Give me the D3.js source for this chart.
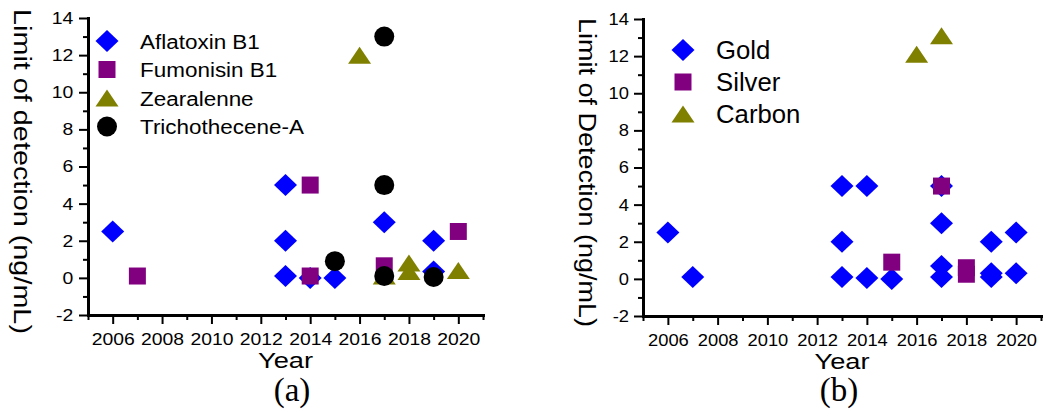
<!DOCTYPE html>
<html>
<head>
<meta charset="utf-8">
<script src="https://cdn.jsdelivr.net/npm/d3@7"></script>
<style>
  body { margin: 0; background: #fff; }
  svg { display: block; font-family: "Liberation Sans", Arial, sans-serif; }
</style>
</head>
<body>
<script>
// ============================================================================
// data
// ============================================================================

// (a) mycotoxins
const toxinNames = ["Aflatoxin B1", "Fumonisin B1", "Zearalenne", "Trichothecene-A"];
const aflatoxinYears = [2006, 2013, 2013, 2013, 2014, 2015, 2017, 2019, 2019];
const aflatoxinLod   = [2.5, 5, 2, 0.1, 0, 0, 3, 2, 0.35];
const fumonisinYears = [2007, 2014, 2014, 2017, 2020];
const fumonisinLod   = [0.1, 5, 0.1, 0.65, 2.5];
const zearYears = [2016, 2017, 2018, 2018, 2020];
const zearLod   = [12, 0.1, 0.8, 0.35, 0.4];
const trichoYears = [2015, 2017, 2017, 2017, 2019];
const trichoLod   = [0.9, 13, 5, 0.1, 0.05];

// (b) nanomaterials
const materialNames = ["Gold", "Silver", "Carbon"];
const goldYears = [2006, 2007, 2013, 2013, 2013, 2014, 2014, 2015, 2017, 2017, 2017, 2017, 2019, 2019, 2019, 2020, 2020];
const goldLod   = [2.5, 0.1, 5, 2, 0.1, 5, 0.05, 0, 5, 3, 0.7, 0.1, 2, 0.3, 0.1, 2.5, 0.3];
const silverYears = [2015, 2017, 2018, 2018];
const silverLod   = [0.9, 5, 0.6, 0.25];
const carbonYears = [2016, 2017];
const carbonLod   = [12.1, 13.1];

// axes
const yearDomain = [2005, 2021];
const yearTicks = [2006, 2008, 2010, 2012, 2014, 2016, 2018, 2020];
const lodDomain = [-2, 14];
const lodTicks = [-2, 0, 2, 4, 6, 8, 10, 12, 14];

// ============================================================================
// marker shapes
// ============================================================================

const shapes = {
    diamond: "M0,-11L11.5,0L0,11L-11.5,0Z",
    square: "M-8.5,-8.5h17v17h-17Z",
    triangle: "M0,-8.5L11.5,8.5L-11.5,8.5Z",
    circle: "M10,0A10,10 0 1,1 -10,0A10,10 0 1,1 10,0Z"
};

const zip = (xs, ys) => xs.map((d, i) => ({ year: d, lod: ys[i] }));

const panels = [
    {
        left: 88, right: 483, top: 18, bottom: 315,
        yTitle: "Limit of detection (ng/mL)", yTitleX: 14, yTitleLen: 325,
        label: "(a)", labelX: 292, tickStretch: 1.14,
        legendX: 107, legendY: 41, legendStep: 28.5, legendFont: 21, legendStretch: 1.07,
        series: [
            { name: toxinNames[0], shape: "diamond",  color: "#0000ff", data: zip(aflatoxinYears, aflatoxinLod) },
            { name: toxinNames[1], shape: "square",   color: "#800080", data: zip(fumonisinYears, fumonisinLod) },
            { name: toxinNames[2], shape: "triangle", color: "#808000", data: zip(zearYears, zearLod) },
            { name: toxinNames[3], shape: "circle",   color: "#000000", data: zip(trichoYears, trichoLod) }
        ]
    },
    {
        left: 643, right: 1041, top: 19, bottom: 316,
        yTitle: "Limit of Detection (ng/mL)", yTitleX: 579, yTitleLen: 309,
        label: "(b)", labelX: 839, tickStretch: 1.08,
        legendX: 683, legendY: 50, legendStep: 32, legendFont: 25, legendStretch: 1.03,
        series: [
            { name: materialNames[0], shape: "diamond",  color: "#0000ff", data: zip(goldYears, goldLod) },
            { name: materialNames[1], shape: "square",   color: "#800080", data: zip(silverYears, silverLod) },
            { name: materialNames[2], shape: "triangle", color: "#808000", data: zip(carbonYears, carbonLod) }
        ]
    }
];

// ============================================================================
// drawing
// ============================================================================

const svg = d3.select("body").append("svg")
    .attr("width", 1053)
    .attr("height", 409);

function styleAxis(sel) {
    sel.attr("font-family", null).attr("font-size", null);
    sel.select(".domain")
        .style("stroke", "#000")
        .style("stroke-width", "3px")
        .style("stroke-linecap", "square");
    sel.selectAll(".tick line")
        .style("stroke", "#000")
        .style("stroke-width", "2px");
    sel.selectAll(".tick text")
        .style("fill", "#000")
        .style("font-size", "17px")
        .style("font-family", "'Liberation Sans', Arial, sans-serif");
}

function drawPanel(p) {
    const g = svg.append("g");

    const x = d3.scaleLinear().domain(yearDomain).range([p.left, p.right]);
    const y = d3.scaleLinear().domain(lodDomain).range([p.bottom, p.top]);

    // minor ticks (every odd step)
    const minorX = d3.range(yearDomain[0], yearDomain[1] + 1).filter(v => !yearTicks.includes(v));
    const minorY = d3.range(lodDomain[0], lodDomain[1] + 1).filter(v => !lodTicks.includes(v));

    g.append("g")
        .attr("transform", `translate(0,${p.bottom})`)
        .call(d3.axisBottom(x).tickValues(minorX).tickSize(5).tickSizeOuter(0).tickFormat(""))
        .call(styleAxis);
    g.append("g")
        .attr("transform", `translate(${p.left},0)`)
        .call(d3.axisLeft(y).tickValues(minorY).tickSize(5).tickSizeOuter(0).tickFormat(""))
        .call(styleAxis);

    // major ticks with labels
    const xAxis = g.append("g")
        .attr("transform", `translate(0,${p.bottom})`)
        .call(d3.axisBottom(x).tickValues(yearTicks).tickSize(9).tickSizeOuter(0).tickFormat(d3.format("d")))
        .call(styleAxis);
    xAxis.selectAll(".tick text")
        .attr("y", 30).attr("dy", 0)
        .attr("transform", `scale(${p.tickStretch},1)`);

    const yAxis = g.append("g")
        .attr("transform", `translate(${p.left},0)`)
        .call(d3.axisLeft(y).tickValues(lodTicks).tickSize(9).tickSizeOuter(0)
            .tickFormat(d => d < 0 ? "-" + Math.abs(d) : d))
        .call(styleAxis);
    yAxis.selectAll(".tick text")
        .attr("x", -13)
        .attr("transform", `scale(${p.tickStretch},1)`);

    // axis titles
    g.append("text")
        .attr("transform", `translate(${(p.left + p.right) / 2},${p.bottom + 53})`)
        .attr("text-anchor", "middle")
        .attr("font-size", 22)
        .attr("textLength", 55)
        .attr("lengthAdjust", "spacingAndGlyphs")
        .text("Year");

    g.append("text")
        .attr("transform", `translate(${p.yTitleX},${(p.top + p.bottom) / 2 + 5}) rotate(90)`)
        .attr("text-anchor", "middle")
        .attr("font-size", 23)
        .attr("textLength", p.yTitleLen)
        .attr("lengthAdjust", "spacingAndGlyphs")
        .text(p.yTitle);

    // panel label
    g.append("text")
        .attr("x", p.labelX)
        .attr("y", 401)
        .attr("text-anchor", "middle")
        .attr("font-family", "Liberation Serif, Times New Roman, serif")
        .attr("font-size", 33)
        .text(p.label);

    // points, series in drawing order
    for (const s of p.series) {
        g.append("g")
            .selectAll("path")
            .data(s.data)
            .join("path")
            .attr("d", shapes[s.shape])
            .attr("fill", s.color)
            .attr("transform", d => `translate(${x(d.year)},${y(d.lod)})`);
    }

    // legend
    const legend = g.append("g")
        .selectAll("g")
        .data(p.series)
        .join("g")
        .attr("transform", (d, i) => `translate(${p.legendX},${p.legendY + i * p.legendStep})`);

    legend.append("path")
        .attr("d", d => shapes[d.shape])
        .attr("fill", d => d.color);

    legend.append("text")
        .attr("transform", `translate(33,${p.legendFont * 0.36}) scale(${p.legendStretch},1)`)
        .attr("font-size", p.legendFont)
        .text(d => d.name);
}

panels.forEach(drawPanel);
</script>
</body>
</html>
